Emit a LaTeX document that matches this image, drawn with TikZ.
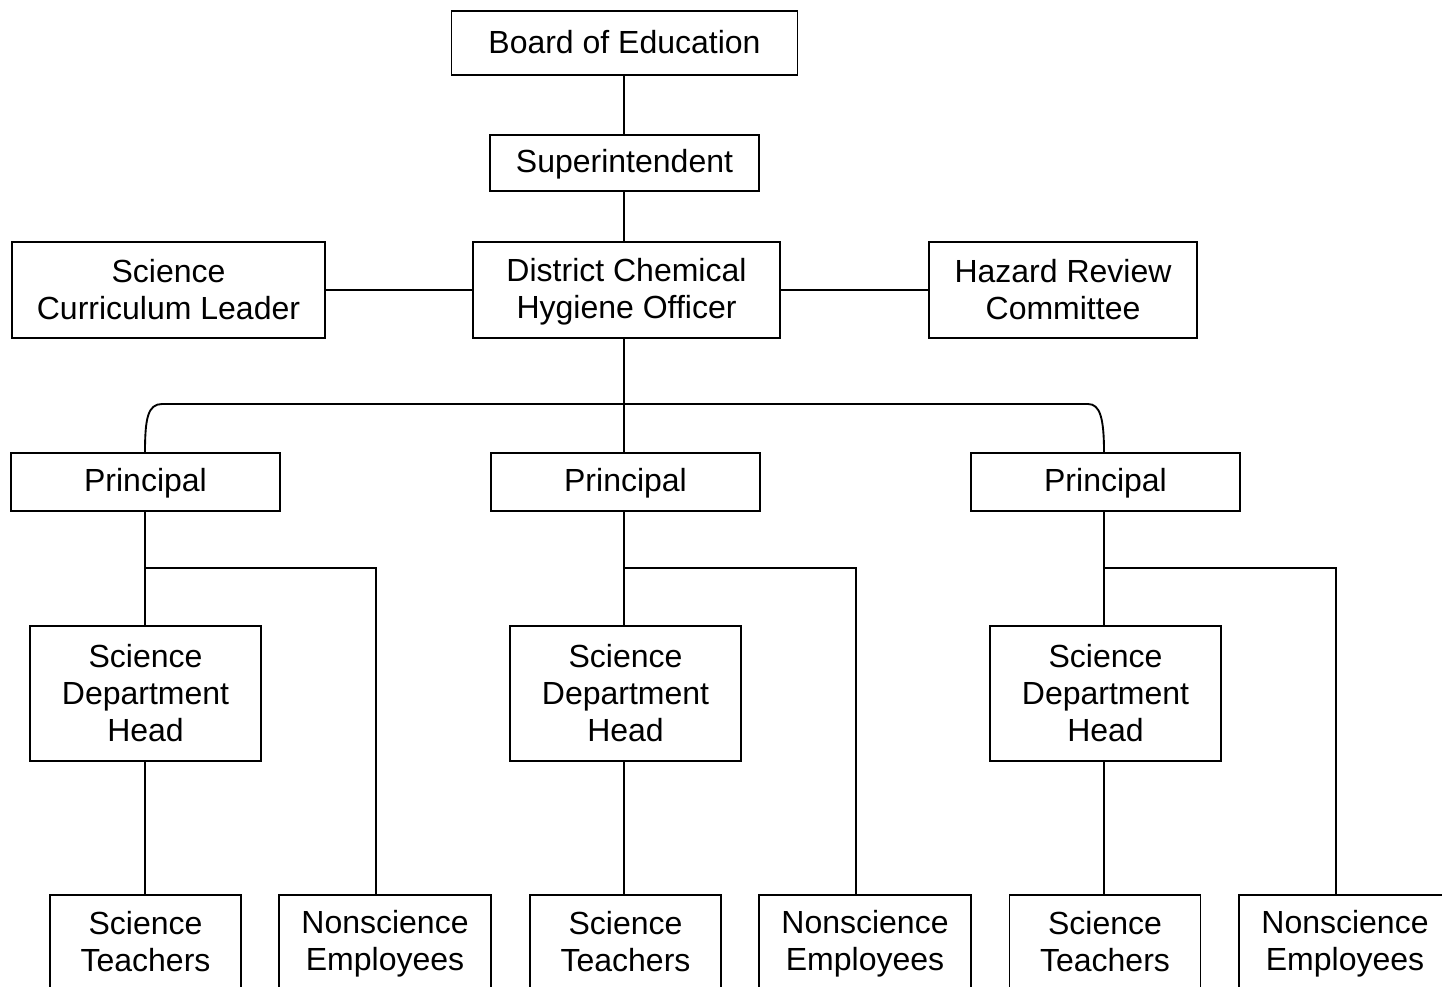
\documentclass[tikz,border=0pt]{standalone}
\usepackage{fontspec}
\setmainfont{Liberation Sans}
\def\u{0.75pt}
\newcommand{\mystrut}{\rule[-3.1pt]{0pt}{22.5pt}}
\tikzset{
  box/.style={draw, line width=1.4pt, align=center, inner sep=0pt,
    font=\fontsize{24}{27.75}\selectfont},
  conn/.style={line width=1.4pt},
}
\begin{document}
\begin{tikzpicture}[x=0.75pt,y=-0.75pt]
\useasboundingbox (0,0) rectangle (1442,986);
\clip (0,0) rectangle (1442,986);
\node[box, minimum width=346*\u, minimum height=64*\u] (board) at (624.5,43) {\mystrut Board of Education};
\node[box, minimum width=269*\u, minimum height=56*\u] (super) at (624.5,163) {\mystrut Superintendent};
\node[box, minimum width=313*\u, minimum height=96*\u] (scl) at (168.5,290) {\mystrut Science\\Curriculum Leader\mystrut};
\node[box, minimum width=307*\u, minimum height=96*\u] (dcho) at (626.5,290) {\mystrut District Chemical\\Hygiene Officer\mystrut};
\node[box, minimum width=268*\u, minimum height=96*\u] (hrc) at (1063,290) {\mystrut Hazard Review\\Committee\mystrut};
\foreach \i/\lx/\cx/\bx/\sx/\nx in {1/145/145.5/376/145.5/385, 2/624/625.5/856/625.5/865, 3/1104/1105.5/1336/1105/1345}{
  \node[box, minimum width=269*\u, minimum height=58*\u] (p\i) at (\cx,482) {\mystrut Principal};
  \node[box, minimum width=231*\u, minimum height=135*\u] (sdh\i) at (\cx,693.5) {\mystrut Science\\Department\\Head\mystrut};
  \node[box, minimum width=191*\u, minimum height=94*\u] (st\i) at (\sx,942) {\mystrut Science\\Teachers\mystrut};
  \node[box, minimum width=212*\u, minimum height=94*\u] (ns\i) at (\nx,942) {\mystrut Nonscience\\Employees\mystrut};
  \coordinate (a\i) at (\lx,568);
  \coordinate (b\i) at (\bx,568);
  \draw[conn] (a\i |- p\i.south) -- (a\i |- sdh\i.north);
  \draw[conn] (a\i |- sdh\i.south) -- (a\i |- st\i.north);
  \draw[conn] (a\i) -- (b\i) -- (b\i |- ns\i.north);
}
\draw[conn] (board.south -| a2) -- (a2 |- super.north);
\draw[conn] (super.south -| a2) -- (a2 |- dcho.north);
\draw[conn] (scl) -- (dcho);
\draw[conn] (dcho) -- (hrc);
\draw[conn] (dcho.south -| a2) -- (a2 |- p2.north);
\draw[conn] (a1 |- p1.north) .. controls (145,418) and (148,404) .. (162,404) -- (1088,404)
  .. controls (1100,404) and (1104,418) .. (a3 |- p3.north);
\end{tikzpicture}
\end{document}
